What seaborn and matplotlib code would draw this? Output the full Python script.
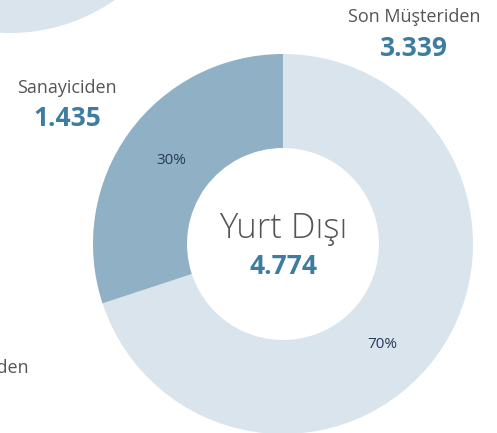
"""Donut: Yurt Dışı satış dağılımı"""
import matplotlib
matplotlib.use("Agg")
import matplotlib.pyplot as plt
import seaborn as sns

sns.set_style("white")
plt.rcParams["font.family"] = ["Open Sans", "DejaVu Sans"]

labels = ["Son Müşteriden", "Sanayiciden"]
values = [3339, 1435]
value_texts = ["3.339", "1.435"]
total_label = "Yurt Dışı"
total_text = "4.774"
pct_texts = ["70%", "30%"]

light = "#d9e4ec"
dark = "#8fb0c5"
blue = "#3e7ca0"
gray = "#555555"
navy = "#263b5a"

fig = plt.figure(figsize=(4.97, 4.33), dpi=100)
ax = fig.add_axes([0, 0, 1, 1])

# neighbouring chart, only its edge shows
ax.pie([1], colors=[light], radius=183, center=(10, 583),
       wedgeprops=dict(width=95, linewidth=0), frame=True)

cx, cy = 283, 189
ax.pie(values, colors=[light, dark], startangle=90, counterclock=False,
       radius=190, center=(cx, cy),
       wedgeprops=dict(width=94, linewidth=0), frame=True)
ax.set_xlim(0, 497)
ax.set_ylim(0, 433)
ax.set_aspect("equal")
ax.axis("off")

ax.text(cx, 204, total_label, ha="center", va="center", fontsize=25,
        fontweight="light", color="#555555")
ax.text(cx, 167, total_text, ha="center", va="center", fontsize=19,
        fontweight="bold", color=blue)

ax.text(414, 416, labels[0], ha="center", va="center", fontsize=13, color=gray)
ax.text(414, 385, value_texts[0], ha="center", va="center", fontsize=19,
        fontweight="bold", color=blue)
ax.text(67, 345, labels[1], ha="center", va="center", fontsize=13, color=gray)
ax.text(67, 314, value_texts[1], ha="center", va="center", fontsize=19,
        fontweight="bold", color=blue)

ax.text(382, 88, pct_texts[0], ha="center", va="center", fontsize=11, color=navy)
ax.text(171, 273, pct_texts[1], ha="center", va="center", fontsize=11, color=navy)

# label of the chart below-left, cut by the edge
ax.text(29, 65, "Sanayiciden", ha="right", va="center", fontsize=13, color=gray)

fig.savefig("out.png", dpi=100)
